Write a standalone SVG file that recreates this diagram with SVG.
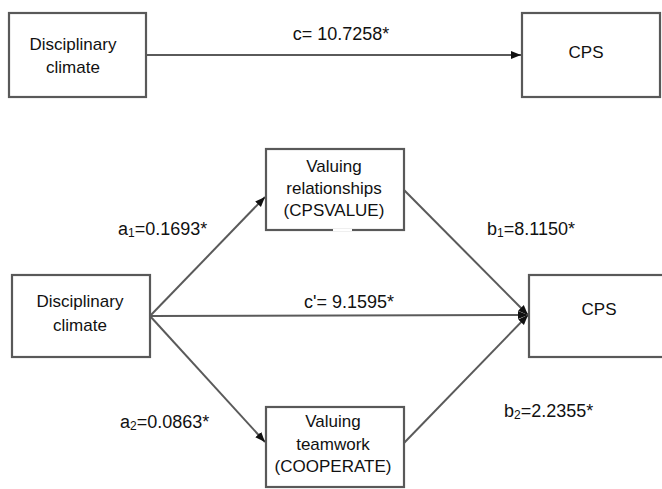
<svg xmlns="http://www.w3.org/2000/svg" width="662" height="489" viewBox="0 0 662 489">
<style>
.box{fill:#fff;stroke:#595959;stroke-width:2.2}
.t{font-family:"Liberation Sans",Arial,sans-serif;font-size:17px;fill:#111}
.l{font-size:18px}
.c{text-anchor:middle}
.edge{stroke:#5a5a5a;stroke-width:2;fill:none;marker-end:url(#ah)}
.sub{font-size:12px}
</style>
<defs>
<marker id="ah" markerUnits="userSpaceOnUse" markerWidth="10" markerHeight="10" viewBox="0 0 10 10" refX="10" refY="5" orient="auto">
<path d="M0,1 L10,5 L0,9 Z" fill="#111"/>
</marker>
</defs>
<rect width="662" height="489" fill="#fff"/>
<g id="connectors">
<line class="edge" x1="146" y1="55" x2="521" y2="55"/>
<line class="edge" x1="150" y1="316" x2="265" y2="197"/>
<line class="edge" x1="150" y1="316" x2="528" y2="315"/>
<line class="edge" x1="150" y1="316" x2="265" y2="442"/>
<line class="edge" x1="404" y1="190" x2="528" y2="315"/>
<line class="edge" x1="404" y1="443" x2="528" y2="315"/>
</g>
<g id="labels">
<text class="t l c" x="341" y="40">c= 10.7258*</text>
<text class="t l" x="118" y="235">a<tspan class="sub" dy="2">1</tspan><tspan dy="-2">=0.1693*</tspan></text>
<text class="t l" x="487" y="235">b<tspan class="sub" dy="2">1</tspan><tspan dy="-2">=8.1150*</tspan></text>
<text class="t l c" x="349" y="308">c'= 9.1595*</text>
<text class="t l" x="120" y="428">a<tspan class="sub" dy="2">2</tspan><tspan dy="-2">=0.0863*</tspan></text>
<text class="t l" x="504" y="417">b<tspan class="sub" dy="2">2</tspan><tspan dy="-2">=2.2355*</tspan></text>
</g>
<g id="dc_top">
<rect class="box" x="9" y="13" width="137" height="84"/>
<text class="t c" x="73" y="50">Disciplinary</text>
<text class="t c" x="73" y="73">climate</text>
</g>
<g id="cps_top">
<rect class="box" x="522" y="13" width="138" height="84"/>
<text class="t c" x="586" y="58">CPS</text>
</g>
<g id="cpsvalue">
<rect class="box" x="266" y="149" width="138" height="81"/>
<line x1="333" y1="230" x2="352" y2="230" stroke="#fff" stroke-width="2"/>
<text class="t c" x="334" y="172">Valuing</text>
<text class="t c" x="334" y="194">relationships</text>
<text class="t c" x="334" y="216">(CPSVALUE)</text>
</g>
<g id="dc_bottom">
<rect class="box" x="12" y="275" width="138" height="82"/>
<text class="t c" x="80" y="307">Disciplinary</text>
<text class="t c" x="80" y="331">climate</text>
</g>
<g id="cps_bottom">
<rect class="box" x="529" y="275" width="140" height="82"/>
<text class="t c" x="599" y="315">CPS</text>
</g>
<g id="cooperate">
<rect class="box" x="266" y="407" width="138" height="80"/>
<text class="t c" x="333" y="427">Valuing</text>
<text class="t c" x="333" y="450">teamwork</text>
<text class="t c" x="333" y="472">(COOPERATE)</text>
</g>
</svg>
